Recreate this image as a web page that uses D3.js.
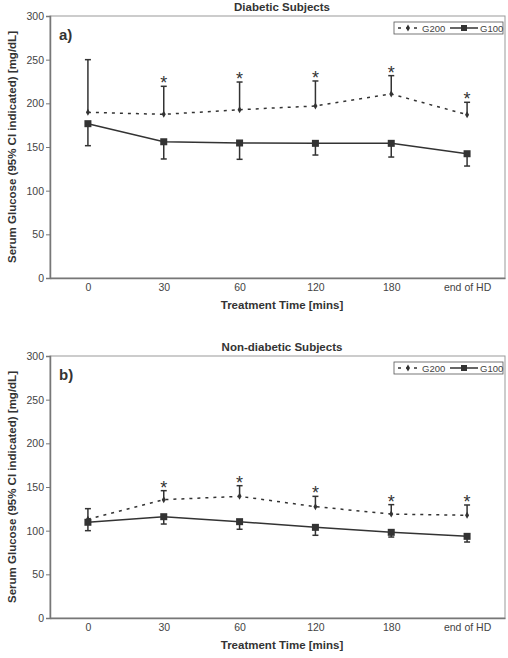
<!DOCTYPE html>
<html>
<head>
<meta charset="utf-8">
<script src="https://cdn.jsdelivr.net/npm/d3@7"></script>
<style>
  body { margin: 0; background: #fff; }
  svg { display: block; font-family: 'Liberation Sans', Arial, sans-serif; }
  .tick text { fill: #444; font-size: 10.5px; }
</style>
</head>
<body>
<div id="chart"></div>
<script>
// time points along x
const categories = ['0', '30', '60', '120', '180', 'end of HD'];
const yTicks = [0, 50, 100, 150, 200, 250, 300];

// diabetic subjects
const diabG200 = [189.7, 187.4, 192.7, 197, 210.7, 187];
const diabG200Upper = [250, 219.5, 224.4, 225.6, 231.7, 201.2];
const diabG100 = [176.7, 156, 154.6, 154.2, 154.2, 142.3];
const diabG100Lower = [151.5, 136.3, 135.9, 140.8, 138.5, 128.2];

// non-diabetic subjects
const nonG200 = [113, 135.5, 139.3, 127.5, 119, 117.6];
const nonG200Upper = [125.2, 145.8, 151.5, 139.3, 129.8, 129.4];
const nonG100 = [109.6, 116, 110.3, 103.8, 98.1, 93.5];
const nonG100Lower = [100, 107.6, 101.6, 94.7, 92.7, 87];

// asterisk = significant difference
const significant = [false, true, true, true, true, true];

const width = 508, height = 658;
const svg = d3.select('#chart').append('svg')
  .attr('width', width)
  .attr('height', height);

const x = d3.scalePoint()
  .domain(categories)
  .range([50, 505])
  .padding(0.5);

function drawPanel(opts) {
  const top = opts.top, bottom = opts.bottom;
  const y = d3.scaleLinear().domain([0, 300]).range([bottom, top]);
  const g = svg.append('g');

  // frame
  g.append('rect')
    .attr('x', 50).attr('y', top)
    .attr('width', 455).attr('height', bottom - top)
    .attr('fill', 'none')
    .attr('stroke', '#999')
    .attr('stroke-width', 1);

  // y axis
  const ya = g.append('g')
    .attr('transform', 'translate(50,0)')
    .call(d3.axisLeft(y).tickValues(yTicks).tickSize(4).tickPadding(2));
  ya.select('.domain').attr('stroke', '#777').attr('stroke-width', 1.5);
  ya.selectAll('.tick line').attr('stroke', '#777');

  // x axis
  const xa = g.append('g')
    .attr('transform', 'translate(0,' + bottom + ')')
    .call(d3.axisBottom(x).tickSize(0).tickPadding(6));
  xa.select('.domain').attr('stroke', '#777').attr('stroke-width', 1.5);

  // titles
  g.append('text')
    .attr('x', 282).attr('y', top - 5)
    .attr('text-anchor', 'middle')
    .attr('font-size', 11.5).attr('font-weight', 'bold').attr('fill', '#333')
    .text(opts.title);

  g.append('text')
    .attr('x', 282).attr('y', bottom + 31)
    .attr('text-anchor', 'middle')
    .attr('font-size', 11.5).attr('font-weight', 'bold').attr('fill', '#333')
    .text('Treatment Time [mins]');

  g.append('text')
    .attr('transform', 'translate(16,' + ((top + bottom) / 2) + ') rotate(-90)')
    .attr('text-anchor', 'middle')
    .attr('font-size', 11.5).attr('font-weight', 'bold').attr('fill', '#333')
    .text('Serum Glucose (95% CI indicated) [mg/dL]');

  g.append('text')
    .attr('x', 59).attr('y', top + 24)
    .attr('font-size', 15).attr('font-weight', 'bold').attr('fill', '#333')
    .text(opts.label);

  // error bars: G200 upward, G100 downward
  const bars = g.append('g').attr('stroke', '#333').attr('stroke-width', 1.5);
  categories.forEach((c, i) => {
    const cx = x(c);
    [[opts.g200[i], opts.g200Upper[i]], [opts.g100[i], opts.g100Lower[i]]].forEach(p => {
      bars.append('line')
        .attr('x1', cx).attr('x2', cx)
        .attr('y1', y(p[0])).attr('y2', y(p[1]));
      bars.append('line')
        .attr('x1', cx - 3).attr('x2', cx + 3)
        .attr('y1', y(p[1])).attr('y2', y(p[1]));
    });
  });

  const line = d3.line()
    .x((d, i) => x(categories[i]))
    .y(d => y(d));

  g.append('path')
    .datum(opts.g200)
    .attr('d', line)
    .attr('fill', 'none')
    .attr('stroke', '#333')
    .attr('stroke-width', 1.5)
    .attr('stroke-dasharray', '3,5');

  g.append('path')
    .datum(opts.g100)
    .attr('d', line)
    .attr('fill', 'none')
    .attr('stroke', '#333')
    .attr('stroke-width', 1.5);

  // markers
  g.selectAll('.dia')
    .data(opts.g200)
    .enter().append('path')
    .attr('d', d3.symbol(d3.symbolDiamond, 14))
    .attr('transform', (d, i) => 'translate(' + x(categories[i]) + ',' + y(d) + ')')
    .attr('fill', '#333');

  g.selectAll('.sq')
    .data(opts.g100)
    .enter().append('rect')
    .attr('x', (d, i) => x(categories[i]) - 3.5)
    .attr('y', d => y(d) - 3.5)
    .attr('width', 7).attr('height', 7)
    .attr('fill', '#333');

  // significance asterisks above the G200 upper bar
  const stars = g.append('g');
  categories.forEach((c, i) => {
    if (!significant[i]) return;
    stars.append('text')
      .attr('x', x(c))
      .attr('y', y(opts.g200Upper[i]) + 3)
      .attr('text-anchor', 'middle')
      .attr('font-size', 18)
      .attr('fill', '#333')
      .text('*');
  });

  // legend
  const lg = g.append('g').attr('transform', 'translate(394,' + (top + 6) + ')');
  lg.append('rect')
    .attr('width', 109).attr('height', 12)
    .attr('fill', '#fff').attr('stroke', '#555').attr('stroke-width', 0.8);
  lg.append('line')
    .attr('x1', 4).attr('x2', 24).attr('y1', 6).attr('y2', 6)
    .attr('stroke', '#333').attr('stroke-width', 1.5).attr('stroke-dasharray', '3,5');
  lg.append('path')
    .attr('d', d3.symbol(d3.symbolDiamond, 14))
    .attr('transform', 'translate(14,6)')
    .attr('fill', '#333');
  lg.append('text')
    .attr('x', 28).attr('y', 9.5)
    .attr('font-size', 9.5).attr('fill', '#444')
    .text('G200');
  lg.append('line')
    .attr('x1', 56).attr('x2', 84).attr('y1', 6).attr('y2', 6)
    .attr('stroke', '#333').attr('stroke-width', 1.5);
  lg.append('rect')
    .attr('x', 67).attr('y', 3).attr('width', 6).attr('height', 6)
    .attr('fill', '#333');
  lg.append('text')
    .attr('x', 86).attr('y', 9.5)
    .attr('font-size', 9.5).attr('fill', '#444')
    .text('G100');
}

drawPanel({
  top: 16, bottom: 278, title: 'Diabetic Subjects', label: 'a)',
  g200: diabG200, g200Upper: diabG200Upper, g100: diabG100, g100Lower: diabG100Lower
});

drawPanel({
  top: 356, bottom: 618, title: 'Non-diabetic Subjects', label: 'b)',
  g200: nonG200, g200Upper: nonG200Upper, g100: nonG100, g100Lower: nonG100Lower
});
</script>
</body>
</html>
